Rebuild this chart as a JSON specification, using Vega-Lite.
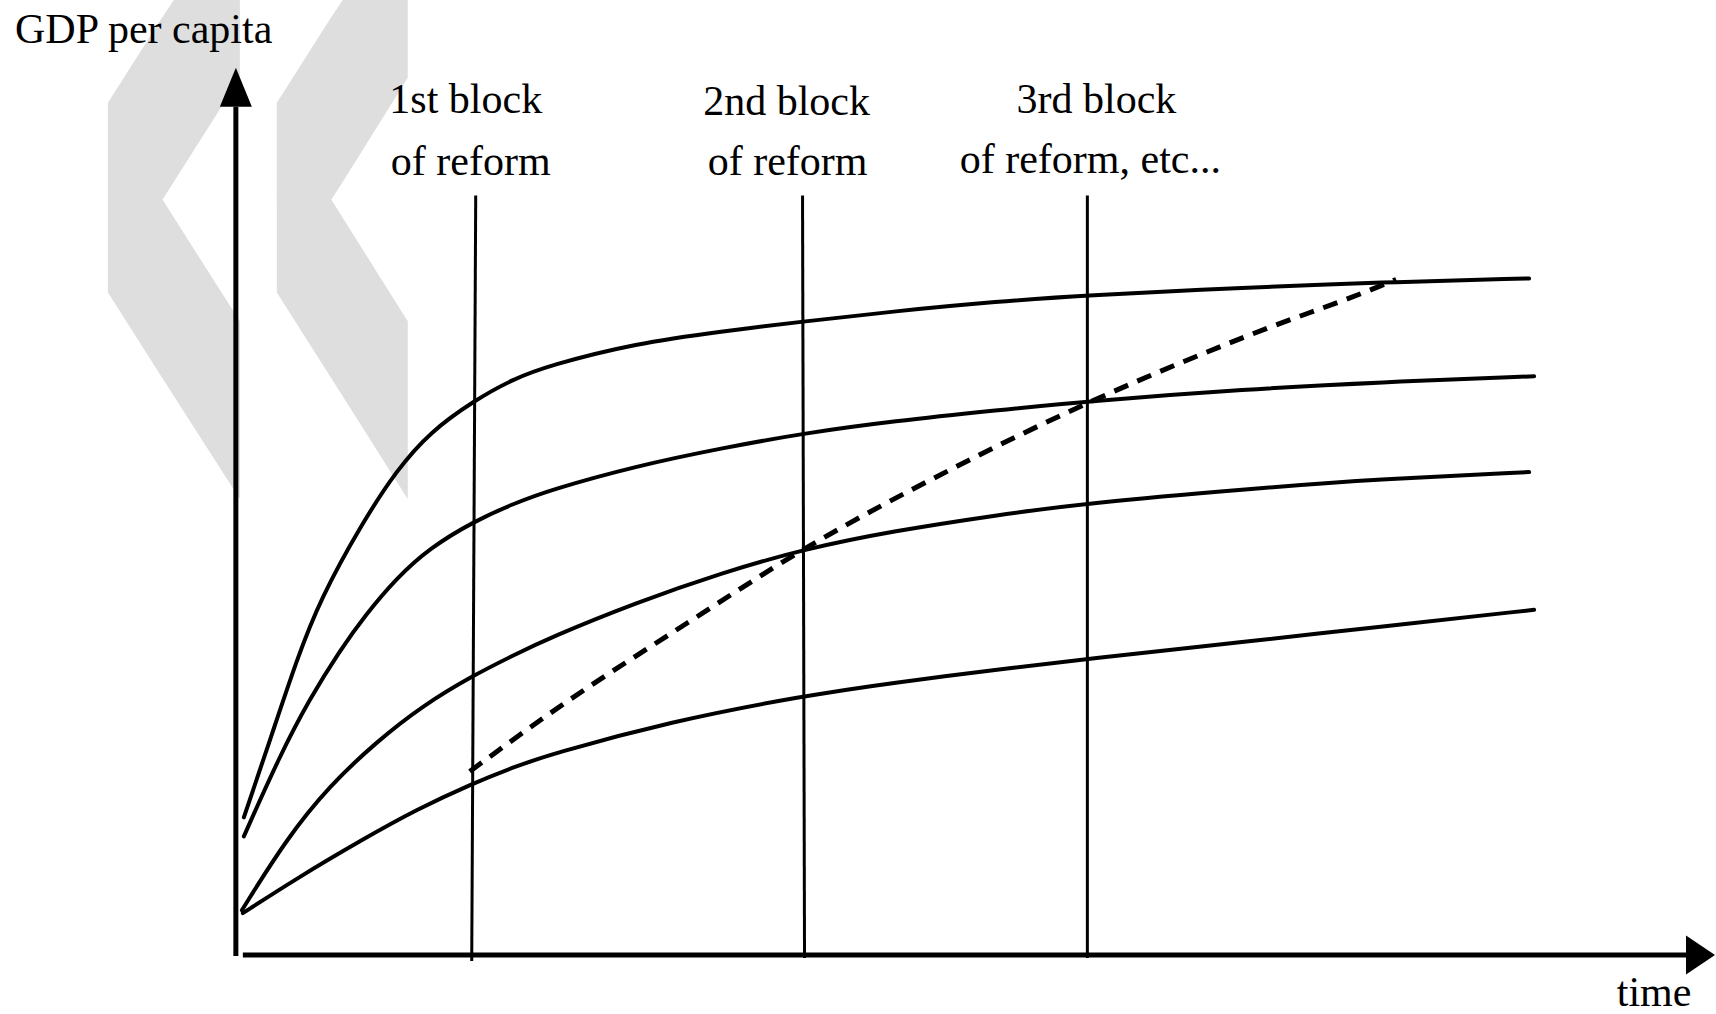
{
  "$schema": "https://vega.github.io/schema/vega-lite/v6.json",
  "width": 1716,
  "height": 1014,
  "padding": 0,
  "autosize": {"type": "fit", "contains": "padding"},
  "background": "white",
  "config": {"view": {"stroke": null}},
  "datasets": {
    "chevrons": [
      {"piece": "c1u", "t": -12.8, "g": 85.4, "g2": 75.3},
      {"piece": "c1u", "t": -7.6, "g": 93.6, "g2": 75.3},
      {"piece": "c1u", "t": -6.2, "g": 95.7, "g2": 77.5},
      {"piece": "c1u", "t": 0.4, "g": 95.7, "g2": 87.9},
      {"piece": "c1l", "t": -12.8, "g": 76.1, "g2": 66.4},
      {"piece": "c1l", "t": -7.6, "g": 76.1, "g2": 58.2},
      {"piece": "c1l", "t": 0.4, "g": 63.5, "g2": 45.7},
      {"piece": "c2u", "t": 4.1, "g": 85.4, "g2": 75.3},
      {"piece": "c2u", "t": 9.3, "g": 93.6, "g2": 75.3},
      {"piece": "c2u", "t": 10.7, "g": 95.7, "g2": 77.5},
      {"piece": "c2u", "t": 17.2, "g": 95.7, "g2": 87.9},
      {"piece": "c2l", "t": 4.1, "g": 76.1, "g2": 66.4},
      {"piece": "c2l", "t": 9.3, "g": 76.1, "g2": 58.2},
      {"piece": "c2l", "t": 17.2, "g": 63.5, "g2": 45.7}
    ],
    "curves": [
      {"curve": "A", "t": 0.8, "g": 13.8},
      {"curve": "A", "t": 3.7, "g": 22.4},
      {"curve": "A", "t": 6.1, "g": 29.6},
      {"curve": "A", "t": 8.4, "g": 35.6},
      {"curve": "A", "t": 12.7, "g": 43.4},
      {"curve": "A", "t": 16.1, "g": 48.6},
      {"curve": "A", "t": 19.4, "g": 52.4},
      {"curve": "A", "t": 23.9, "g": 55.6},
      {"curve": "A", "t": 27.7, "g": 57.7},
      {"curve": "A", "t": 31.4, "g": 59.1},
      {"curve": "A", "t": 40.0, "g": 61.3},
      {"curve": "A", "t": 48.6, "g": 62.5},
      {"curve": "A", "t": 56.9, "g": 63.5},
      {"curve": "A", "t": 65.8, "g": 64.5},
      {"curve": "A", "t": 76.2, "g": 65.5},
      {"curve": "A", "t": 85.2, "g": 66.1},
      {"curve": "A", "t": 101.1, "g": 66.9},
      {"curve": "A", "t": 114.4, "g": 67.4},
      {"curve": "A", "t": 129.4, "g": 67.8},
      {"curve": "B", "t": 0.8, "g": 11.9},
      {"curve": "B", "t": 4.4, "g": 20.0},
      {"curve": "B", "t": 7.4, "g": 25.7},
      {"curve": "B", "t": 10.4, "g": 30.5},
      {"curve": "B", "t": 12.9, "g": 34.0},
      {"curve": "B", "t": 16.1, "g": 37.8},
      {"curve": "B", "t": 19.4, "g": 40.8},
      {"curve": "B", "t": 23.9, "g": 43.5},
      {"curve": "B", "t": 27.7, "g": 45.2},
      {"curve": "B", "t": 31.4, "g": 46.6},
      {"curve": "B", "t": 40.0, "g": 49.0},
      {"curve": "B", "t": 48.6, "g": 50.8},
      {"curve": "B", "t": 56.9, "g": 52.3},
      {"curve": "B", "t": 65.8, "g": 53.5},
      {"curve": "B", "t": 76.2, "g": 54.6},
      {"curve": "B", "t": 85.2, "g": 55.5},
      {"curve": "B", "t": 101.1, "g": 56.7},
      {"curve": "B", "t": 114.4, "g": 57.4},
      {"curve": "B", "t": 129.9, "g": 58.0},
      {"curve": "C", "t": 0.6, "g": 4.5},
      {"curve": "C", "t": 5.1, "g": 11.7},
      {"curve": "C", "t": 9.4, "g": 17.0},
      {"curve": "C", "t": 14.1, "g": 21.4},
      {"curve": "C", "t": 18.7, "g": 25.0},
      {"curve": "C", "t": 23.7, "g": 28.0},
      {"curve": "C", "t": 27.7, "g": 30.0},
      {"curve": "C", "t": 31.4, "g": 31.8},
      {"curve": "C", "t": 40.0, "g": 35.3},
      {"curve": "C", "t": 48.6, "g": 38.3},
      {"curve": "C", "t": 56.9, "g": 40.7},
      {"curve": "C", "t": 65.8, "g": 42.5},
      {"curve": "C", "t": 76.2, "g": 44.1},
      {"curve": "C", "t": 85.2, "g": 45.3},
      {"curve": "C", "t": 101.1, "g": 46.7},
      {"curve": "C", "t": 114.4, "g": 47.7},
      {"curve": "C", "t": 129.4, "g": 48.4},
      {"curve": "D", "t": 0.7, "g": 4.2},
      {"curve": "D", "t": 6.1, "g": 7.7},
      {"curve": "D", "t": 12.7, "g": 11.6},
      {"curve": "D", "t": 18.1, "g": 14.6},
      {"curve": "D", "t": 23.7, "g": 17.2},
      {"curve": "D", "t": 27.7, "g": 18.8},
      {"curve": "D", "t": 31.4, "g": 20.1},
      {"curve": "D", "t": 43.4, "g": 23.4},
      {"curve": "D", "t": 56.9, "g": 26.0},
      {"curve": "D", "t": 65.8, "g": 27.3},
      {"curve": "D", "t": 76.2, "g": 28.6},
      {"curve": "D", "t": 85.2, "g": 29.7},
      {"curve": "D", "t": 101.1, "g": 31.4},
      {"curve": "D", "t": 114.4, "g": 32.9},
      {"curve": "D", "t": 129.9, "g": 34.6}
    ],
    "path": [
      {"t": 23.4, "g": 18.4},
      {"t": 31.4, "g": 24.2},
      {"t": 45.2, "g": 33.3},
      {"t": 56.9, "g": 40.7},
      {"t": 72.0, "g": 48.9},
      {"t": 85.2, "g": 55.3},
      {"t": 101.1, "g": 62.0},
      {"t": 114.4, "g": 67.0},
      {"t": 116.1, "g": 67.7}
    ],
    "reforms": [
      {"t": 24.0, "g": 76.1, "t2": 23.6, "g2": -0.6},
      {"t": 56.7, "g": 76.1, "t2": 56.9, "g2": -0.3},
      {"t": 85.2, "g": 76.1, "t2": 85.2, "g2": -0.3}
    ],
    "axes": [
      {"t": 0, "g": 85.0, "t2": 0, "g2": -0.1},
      {"t": 0.7, "g": 0, "t2": 145.4, "g2": 0}
    ],
    "labels": [
      {"t": 23.0, "g": 84.4, "label": "1st block"},
      {"t": 23.5, "g": 78.2, "label": "of reform"},
      {"t": 55.1, "g": 84.2, "label": "2nd block"},
      {"t": 55.2, "g": 78.2, "label": "of reform"},
      {"t": 86.1, "g": 84.4, "label": "3rd block"},
      {"t": 85.5, "g": 78.4, "label": "of reform, etc..."},
      {"t": 141.9, "g": -5.1, "label": "time"}
    ],
    "ylabel": [
      {"t": -22.1, "g": 91.4, "label": "GDP per capita"}
    ],
    "arrowUp": [{"t": 0, "g": 86.95}],
    "arrowRight": [{"t": 146.55, "g": 0}]
  },
  "encoding": {
    "x": {"field": "t", "type": "quantitative", "axis": null, "scale": {"domain": [-23.6, 148.0], "nice": false, "zero": false}},
    "y": {"field": "g", "type": "quantitative", "axis": null, "scale": {"domain": [-5.7, 95.7], "nice": false, "zero": false}}
  },
  "layer": [
    {
      "data": {"name": "chevrons"},
      "mark": {"type": "area", "color": "#dedede", "opacity": 1, "interpolate": "linear"},
      "encoding": {
        "y2": {"field": "g2"},
        "detail": {"field": "piece", "type": "nominal"}
      }
    },
    {
      "data": {"name": "reforms"},
      "mark": {"type": "rule", "color": "black", "strokeWidth": 3},
      "encoding": {
        "x2": {"field": "t2"},
        "y2": {"field": "g2"}
      }
    },
    {
      "data": {"name": "axes"},
      "mark": {"type": "rule", "color": "black", "strokeWidth": 5},
      "encoding": {
        "x2": {"field": "t2"},
        "y2": {"field": "g2"}
      }
    },
    {
      "data": {"name": "curves"},
      "mark": {"type": "line", "color": "black", "strokeWidth": 4, "interpolate": "basis", "strokeCap": "round"},
      "encoding": {
        "detail": {"field": "curve", "type": "nominal"},
        "order": {"field": "t", "type": "quantitative"}
      }
    },
    {
      "data": {"name": "path"},
      "mark": {"type": "line", "color": "black", "strokeWidth": 5, "interpolate": "monotone", "strokeDash": [15, 10]},
      "encoding": {
        "order": {"field": "t", "type": "quantitative"}
      }
    },
    {
      "data": {"name": "arrowUp"},
      "mark": {"type": "point", "shape": "M0,-1L0.82,1L-0.82,1Z", "size": 1521, "filled": true, "color": "black", "opacity": 1, "strokeWidth": 0}
    },
    {
      "data": {"name": "arrowRight"},
      "mark": {"type": "point", "shape": "M0.744,0L-0.744,-1L-0.744,1Z", "size": 1521, "filled": true, "color": "black", "opacity": 1, "strokeWidth": 0}
    },
    {
      "data": {"name": "labels"},
      "mark": {"type": "text", "font": "Liberation Serif", "fontSize": 42, "align": "center", "baseline": "alphabetic", "color": "black"},
      "encoding": {
        "text": {"field": "label", "type": "nominal"}
      }
    },
    {
      "data": {"name": "ylabel"},
      "mark": {"type": "text", "font": "Liberation Serif", "fontSize": 42, "align": "left", "baseline": "alphabetic", "color": "black"},
      "encoding": {
        "text": {"field": "label", "type": "nominal"}
      }
    }
  ]
}
